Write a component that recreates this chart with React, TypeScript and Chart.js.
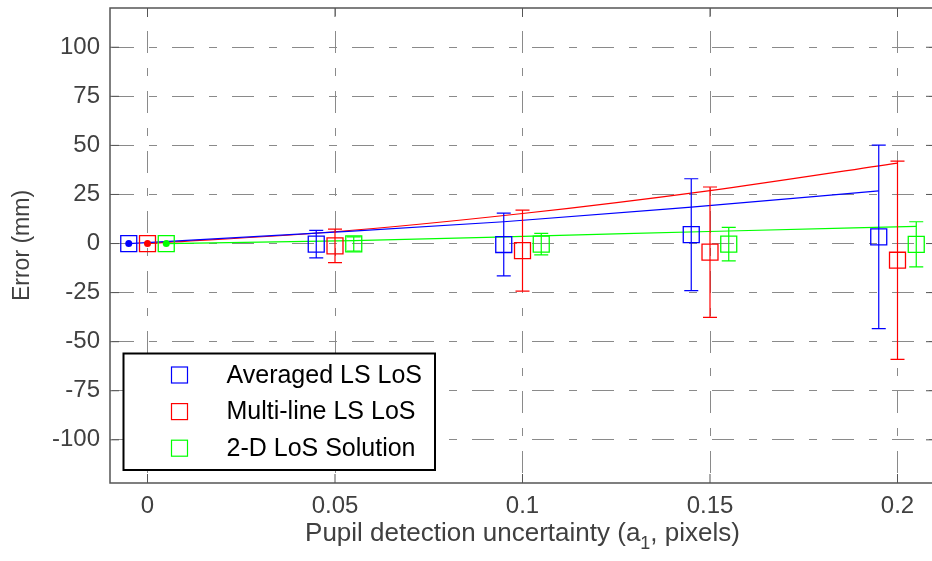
import React, { useEffect, useRef } from 'react';
import { Chart, registerables } from 'chart.js';

Chart.register(...registerables);

// ---------- data ----------
const xTicks = [0, 0.05, 0.1, 0.15, 0.2];
const yTicks = [-100, -75, -50, -25, 0, 25, 50, 75, 100];
const seriesNames = ['Averaged LS LoS', 'Multi-line LS LoS', '2-D LoS Solution'];
const seriesColors = ['#0000ff', '#ff0000', '#00ff00'];

const blueX = [-0.005, 0.045, 0.095, 0.145, 0.195];
const redX = [0, 0.05, 0.1, 0.15, 0.2];
const greenX = [0.005, 0.055, 0.105, 0.155, 0.205];

const blueMean = [0, -0.3, -0.5, 4.5, 3.4];
const blueErr = [0, 7, 16, 28.5, 46.7];
const redMean = [0, -1.2, -3.6, -4.4, -8.5];
const redErr = [0, 8.5, 20.6, 33.2, 50.5];
const greenMean = [0, -0.2, -0.3, -0.3, -0.4];
const greenErr = [0, 3.6, 5.5, 8.5, 11.5];

const blueTrend = [0, 5.3, 11.1, 18.6, 26.8];
const redTrend = [0, 6, 15.3, 27, 41];
const greenTrend = [0, 1.5, 3.9, 6.4, 8.7];

const xTitleMain = 'Pupil detection uncertainty (a';
const xTitleSub = '1';
const xTitleEnd = ', pixels)';
const yTitle = 'Error (mm)';

const xMin = -0.01;
const xMax = 0.21;
const yMin = -122;
const yMax = 120;

const FONT = '"Liberation Sans", Arial, Helvetica, sans-serif';
const TEXT = '#404040';
const AXIS = '#555555';
const GRID = '#8a8a8a';

const pts = (xs: number[], ys: number[]) => xs.map((x, i) => ({ x, y: ys[i] }));

const seriesX = [blueX, redX, greenX];
const seriesMean = [blueMean, redMean, greenMean];
const seriesErr = [blueErr, redErr, greenErr];

const decor = {
  id: 'decor',
  afterDatasetsDraw(chart: any) {
    const { ctx, scales } = chart;
    const xs = scales.x;
    const ys = scales.y;
    ctx.save();
    ctx.lineWidth = 1.2;
    for (let s = 0; s < 3; s++) {
      ctx.strokeStyle = seriesColors[s];
      const X = seriesX[s];
      for (let j = 0; j < X.length; j++) {
        const e = seriesErr[s][j];
        if (!e) continue;
        const m = seriesMean[s][j];
        const px = xs.getPixelForValue(X[j]);
        const yt = ys.getPixelForValue(m + e);
        const yb = ys.getPixelForValue(m - e);
        ctx.beginPath();
        ctx.moveTo(px, yt);
        ctx.lineTo(px, yb);
        ctx.moveTo(px - 7, yt);
        ctx.lineTo(px + 7, yt);
        ctx.moveTo(px - 7, yb);
        ctx.lineTo(px + 7, yb);
        ctx.stroke();
      }
    }
    ctx.restore();
  },
  afterDraw(chart: any) {
    const { ctx, chartArea, scales } = chart;
    const { left, right, top, bottom } = chartArea;
    const xs = scales.x;
    const ys = scales.y;
    ctx.save();
    // axes box
    ctx.strokeStyle = AXIS;
    ctx.lineWidth = 1.5;
    ctx.strokeRect(left, top, right - left, bottom - top);
    // inward tick marks
    ctx.lineWidth = 1;
    ctx.beginPath();
    for (const v of xTicks) {
      const px = xs.getPixelForValue(v);
      ctx.moveTo(px, bottom);
      ctx.lineTo(px, bottom - 9);
      ctx.moveTo(px, top);
      ctx.lineTo(px, top + 9);
    }
    for (const v of yTicks) {
      const py = ys.getPixelForValue(v);
      ctx.moveTo(left, py);
      ctx.lineTo(left + 9, py);
      ctx.moveTo(right, py);
      ctx.lineTo(right - 9, py);
    }
    ctx.stroke();

    // x title with subscript
    const cx = (left + right) / 2;
    const mainFont = `26px ${FONT}`;
    const subFont = `18px ${FONT}`;
    ctx.font = mainFont;
    const w1 = ctx.measureText(xTitleMain).width;
    const w3 = ctx.measureText(xTitleEnd).width;
    ctx.font = subFont;
    const w2 = ctx.measureText(xTitleSub).width;
    const x0 = cx - (w1 + w2 + w3) / 2;
    const base = bottom + 58;
    ctx.fillStyle = TEXT;
    ctx.textBaseline = 'alphabetic';
    ctx.textAlign = 'left';
    ctx.font = mainFont;
    ctx.fillText(xTitleMain, x0, base);
    ctx.font = subFont;
    ctx.fillText(xTitleSub, x0 + w1, base + 8);
    ctx.font = mainFont;
    ctx.fillText(xTitleEnd, x0 + w1 + w2, base);

    // legend
    const lx = left + 13.5;
    const ly = 353.5;
    const lw = 311.5;
    const lh = 116.5;
    ctx.fillStyle = '#ffffff';
    ctx.fillRect(lx, ly, lw, lh);
    ctx.strokeStyle = '#000000';
    ctx.lineWidth = 2;
    ctx.strokeRect(lx, ly, lw, lh);
    ctx.font = `25px ${FONT}`;
    ctx.textBaseline = 'middle';
    ctx.lineWidth = 1.2;
    for (let i = 0; i < seriesNames.length; i++) {
      const cy = ly + 21.5 + i * 36.6;
      ctx.strokeStyle = seriesColors[i];
      ctx.strokeRect(lx + 48, cy - 8, 16, 16);
      ctx.fillStyle = '#000000';
      ctx.fillText(seriesNames[i], lx + 103, cy + 1);
    }
    ctx.restore();
  },
};

export default function App() {
  const ref = useRef<HTMLCanvasElement>(null);
  useEffect(() => {
    const canvas = ref.current!;
    const squares = (i: number) => ({
      label: seriesNames[i],
      data: pts(seriesX[i], seriesMean[i]),
      showLine: false,
      pointStyle: 'rect',
      pointRadius: 11.3,
      pointBorderWidth: 1.3,
      pointBorderColor: seriesColors[i],
      pointBackgroundColor: 'rgba(0,0,0,0)',
      borderColor: seriesColors[i],
      backgroundColor: 'rgba(0,0,0,0)',
      order: 1,
    });
    const trend = (i: number, ys: number[]) => ({
      label: seriesNames[i] + ' trend',
      data: pts(seriesX[i], ys),
      showLine: true,
      pointRadius: 0,
      borderColor: seriesColors[i],
      borderWidth: 1.2,
      cubicInterpolationMode: 'monotone',
      fill: false,
      order: 2,
    });
    const chart = new Chart(canvas, {
      type: 'scatter',
      data: {
        datasets: [
          squares(0),
          squares(1),
          squares(2),
          trend(0, blueTrend),
          trend(1, redTrend),
          trend(2, greenTrend),
          {
            label: 'origin',
            data: [0, 1, 2].map((s) => ({ x: seriesX[s][0], y: seriesMean[s][0] })),
            showLine: false,
            pointStyle: 'circle',
            pointRadius: 3.5,
            pointBorderWidth: 0,
            pointBackgroundColor: seriesColors,
            pointBorderColor: seriesColors,
            order: 0,
          } as any,
        ] as any,
      },
      options: {
        animation: false,
        responsive: false,
        devicePixelRatio: 1,
        layout: { autoPadding: false, padding: { top: 8, left: 0, right: 5, bottom: 0 } },
        plugins: {
          legend: { display: false },
          tooltip: { enabled: false },
        },
        scales: {
          x: {
            type: 'linear',
            min: xMin,
            max: xMax,
            afterBuildTicks: (scale: any) => {
              scale.ticks = xTicks.map((v) => ({ value: v }));
            },
            afterFit: (scale: any) => {
              scale.height = 78;
              scale.paddingLeft = 0;
              scale.paddingRight = 0;
            },
            grid: {
              color: GRID,
              lineWidth: 1,
              drawTicks: false,
            },
            border: { display: false, dash: [8, 15, 22, 15], dashOffset: 0 },
            ticks: {
              font: { family: FONT, size: 24 },
              color: TEXT,
              padding: 9,
              maxRotation: 0,
              autoSkip: false,
              callback: (v: any) => String(Number(v)),
            },
          },
          y: {
            type: 'linear',
            min: yMin,
            max: yMax,
            afterBuildTicks: (scale: any) => {
              scale.ticks = yTicks.map((v) => ({ value: v }));
            },
            afterFit: (scale: any) => {
              scale.width = 110;
              scale.paddingTop = 0;
              scale.paddingBottom = 0;
            },
            grid: {
              color: GRID,
              lineWidth: 1,
              drawTicks: false,
            },
            border: { display: false, dash: [22, 15, 8, 15], dashOffset: 58 },
            ticks: {
              font: { family: FONT, size: 24 },
              color: TEXT,
              padding: 10,
              autoSkip: false,
              callback: (v: any) => String(Number(v)),
            },
            title: {
              display: true,
              text: yTitle,
              color: TEXT,
              font: { family: FONT, size: 23 },
              padding: { top: 9, bottom: 0 },
            },
          },
        },
      } as any,
      plugins: [decor],
    });
    return () => chart.destroy();
  }, []);
  return (
    <div
      style={{
        position: 'fixed',
        left: 0,
        top: 0,
        width: 932,
        height: 561,
        overflow: 'hidden',
        background: '#ffffff',
      }}
    >
      <canvas ref={ref} width={940} height={561} style={{ display: 'block', width: 940, height: 561 }} />
    </div>
  );
}
